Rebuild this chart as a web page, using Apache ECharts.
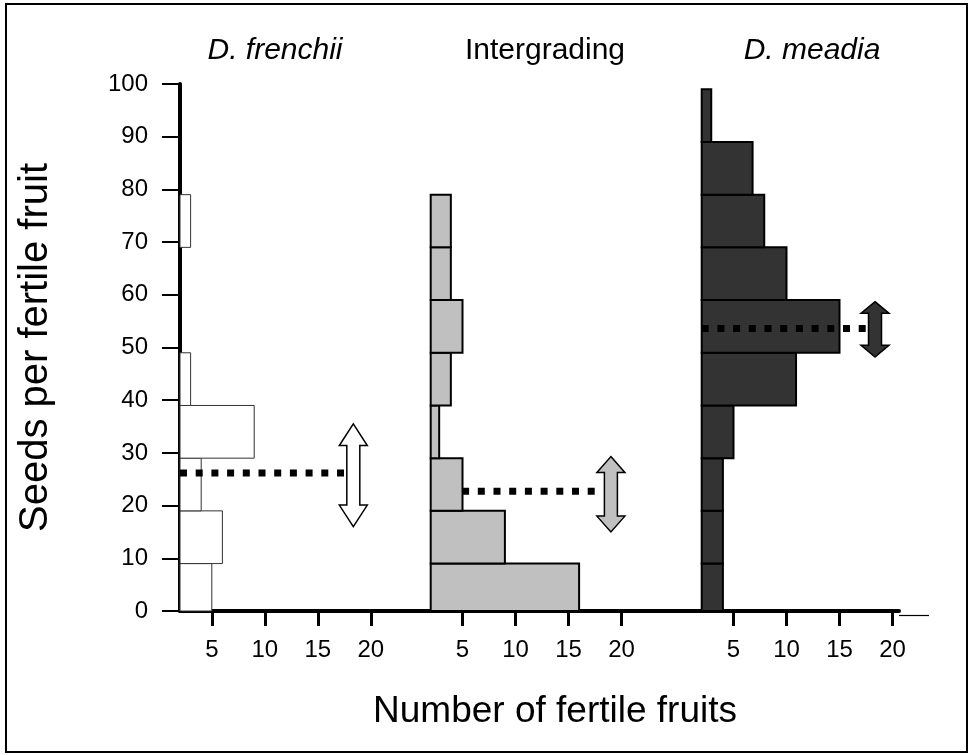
<!DOCTYPE html>
<html>
<head>
<meta charset="utf-8">
<script src="https://cdn.jsdelivr.net/npm/echarts@6/dist/echarts.min.js"></script>
<style>
    html, body { margin: 0; padding: 0; background: #fff; }
    #chart { width: 972px; height: 755px; }
</style>
</head>
<body>
<div id="chart"></div>
<script>
    // seed-count bins (lower / upper edge)
    var binLow  = [0, 9, 19, 29, 39, 49, 59, 69, 79, 89];
    var binHigh = [9, 19, 29, 39, 49, 59, 69, 79, 89, 99];

    // number of fertile fruits per bin, read against the x tick labels (null = no bar)
    var frenchii     = [5, 6, 4, 9, 3, null, null, 3, null, null];
    var intergrading = [16, 9, 5, 2.8, 3.9, 5, 3.9, 3.9, null, null];
    var meadia       = [4, 4, 4, 5, 10.9, 15, 10, 7.9, 6.8, 2.9];

    // mean (dotted line) and range (double arrow) for each group
    var meanSeeds   = [26.2, 22.7, 53.6];
    var meanLineEnd = [19.1, 17.9, 19];
    var arrowX      = [18.35, 19, 18.35];
    var arrowLow    = [16, 15, 48.2];
    var arrowHigh   = [35.5, 29.3, 58.7];

    var groupNames = ['D. frenchii', 'Intergrading', 'D. meadia'];
    var xTicks = [5, 10, 15, 20];
    var xMin = 2;

    var font = '"Liberation Sans", Arial, sans-serif';
    var fills   = ['#ffffff', '#c0c0c0', '#333333'];
    var strokes = ['#333333', '#000000', '#000000'];
    var strokeW = [1, 2, 2];

    // panel layout (pixels)
    var pxPerUnit = 10.6;
    var panels = [
        { left: 180, width: 250.7 },
        { left: 430.7, width: 271 },
        { left: 701.7, width: 197.3 }
    ];
    var gridTop = 84, gridBottom = 755 - 611;

    var counts = [frenchii, intergrading, meadia];

    var grid = [], xAxis = [], yAxis = [], series = [];

    panels.forEach(function (p, i) {
        grid.push({ left: p.left, width: p.width, top: gridTop, bottom: gridBottom });
        xAxis.push({
            type: 'value',
            gridIndex: i,
            min: xMin,
            max: xMin + p.width / pxPerUnit,
            offset: 4,
            axisLine: { show: true, lineStyle: { color: '#000', width: 4 } },
            axisTick: { show: true, customValues: xTicks, length: 15, lineStyle: { color: '#000', width: 3 } },
            axisLabel: { customValues: xTicks, fontSize: 24, margin: 23, color: '#000', fontFamily: font },
            splitLine: { show: false }
        });
        yAxis.push({
            type: 'value',
            gridIndex: i,
            min: 0,
            max: 100,
            interval: 10,
            show: i === 0,
            name: i === 0 ? 'Seeds per fertile fruit' : '',
            nameLocation: 'middle',
            nameGap: 124,
            nameRotate: 90,
            nameTextStyle: { fontSize: 40, color: '#000', fontFamily: font },
            axisLine: { show: true, lineStyle: { color: '#000', width: 4 } },
            axisTick: { show: true, length: 18, lineStyle: { color: '#000', width: 2 } },
            axisLabel: { fontSize: 24, margin: 32, color: '#000', fontFamily: font },
            splitLine: { show: false }
        });

        var barData = [];
        counts[i].forEach(function (v, k) {
            if (v != null) barData.push([binLow[k], binHigh[k], v]);
        });

        series.push({
            type: 'custom',
            xAxisIndex: i,
            yAxisIndex: i,
            z: 3,
            data: barData,
            renderItem: function (params, api) {
                var p0 = api.coord([xMin, api.value(0)]);
                var p1 = api.coord([api.value(2), api.value(1)]);
                return {
                    type: 'rect',
                    shape: { x: p0[0], y: p1[1], width: p1[0] - p0[0], height: p0[1] - p1[1] },
                    style: { fill: fills[i], stroke: strokes[i], lineWidth: strokeW[i] }
                };
            }
        });

        series.push({
            type: 'line',
            xAxisIndex: i,
            yAxisIndex: i,
            z: i === 1 ? 2 : 4,
            symbol: 'none',
            silent: true,
            data: [[xMin, meanSeeds[i]], [meanLineEnd[i], meanSeeds[i]]],
            lineStyle: { color: '#000', width: 7, type: [7, 8.7], cap: 'butt' }
        });

        series.push({
            type: 'custom',
            xAxisIndex: i,
            yAxisIndex: i,
            z: 5,
            data: [[arrowX[i], arrowLow[i], arrowHigh[i]]],
            renderItem: function (params, api) {
                var top = api.coord([api.value(0), api.value(2)]);
                var bot = api.coord([api.value(0), api.value(1)]);
                var len = bot[1] - top[1];
                var head = len * 0.21, hw = 14, sw = 6.5;
                var x = top[0], t = top[1], b = bot[1];
                return {
                    type: 'polygon',
                    shape: {
                        points: [
                            [x, t], [x + hw, t + head], [x + sw, t + head], [x + sw, b - head],
                            [x + hw, b - head], [x, b], [x - hw, b - head], [x - sw, b - head],
                            [x - sw, t + head], [x - hw, t + head]
                        ]
                    },
                    style: { fill: fills[i], stroke: '#000', lineWidth: 1.5 }
                };
            }
        });
    });

    var titleX = [275, 545, 812];
    var graphic = groupNames.map(function (n, i) {
        return {
            type: 'text',
            x: titleX[i],
            y: 51,
            style: {
                text: n,
                align: 'center',
                verticalAlign: 'middle',
                font: (i === 1 ? 'normal ' : 'italic ') + '30px ' + font,
                fill: '#000'
            }
        };
    });
    graphic.push({
        type: 'text',
        x: 555,
        y: 712,
        style: { text: 'Number of fertile fruits', align: 'center', verticalAlign: 'middle', font: '37px ' + font, fill: '#000' }
    });
    // thin tail of the x axis line
    graphic.push({
        type: 'line',
        shape: { x1: 899, y1: 615.5, x2: 929, y2: 615.5 },
        style: { stroke: '#000', lineWidth: 1.2 }
    });
    // frame
    graphic.push({
        type: 'rect',
        shape: { x: 6, y: 4, width: 961, height: 748 },
        style: { fill: null, stroke: '#000', lineWidth: 2 }
    });

    var chart = echarts.init(document.getElementById('chart'));
    chart.setOption({
        animation: false,
        backgroundColor: '#fff',
        grid: grid,
        xAxis: xAxis,
        yAxis: yAxis,
        series: series,
        graphic: graphic
    });
    window.addEventListener('resize', function () {
        chart.resize();
    });
</script>
</body>
</html>
